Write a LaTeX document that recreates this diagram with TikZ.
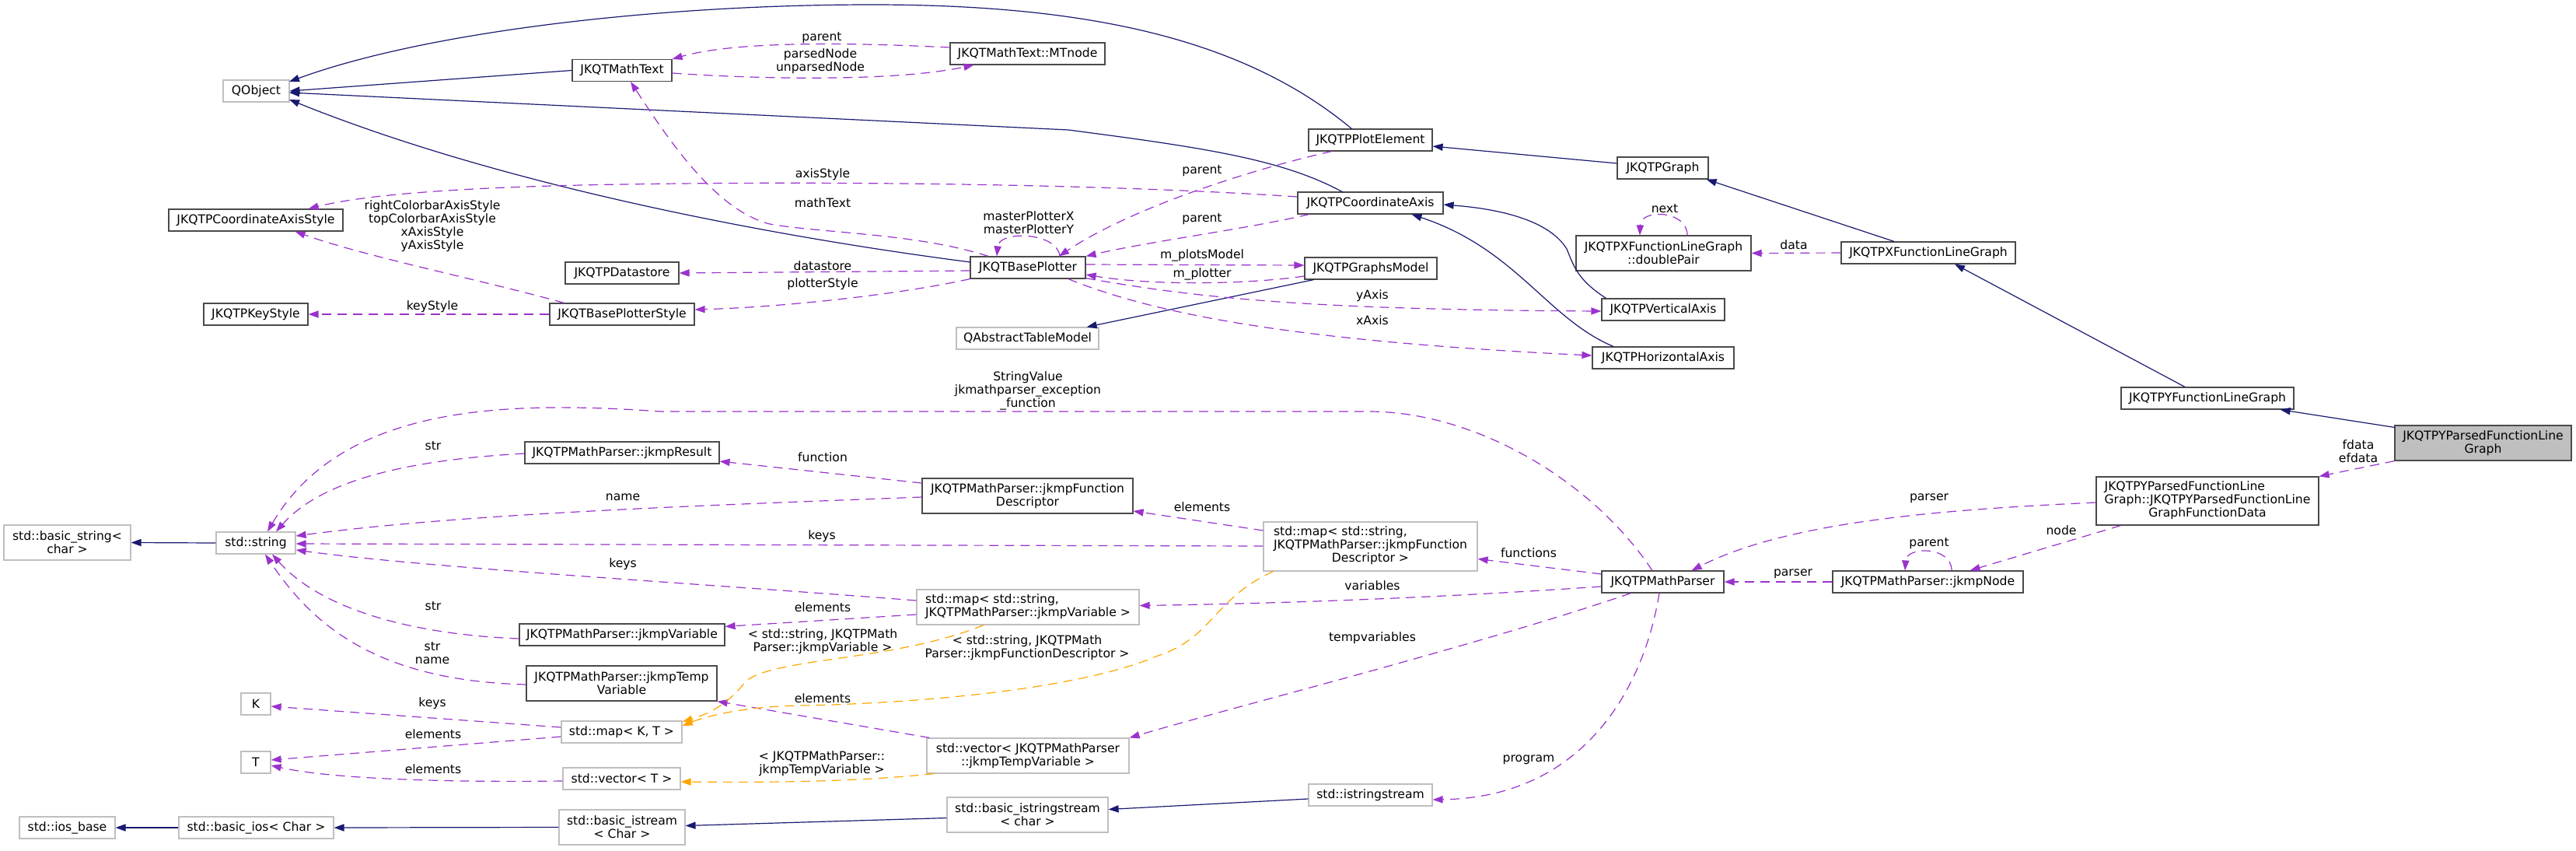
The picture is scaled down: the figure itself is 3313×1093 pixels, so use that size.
\documentclass[tikz,border=0pt]{standalone}
\usepackage{fontspec}
\setmainfont{DejaVu Sans}
\usetikzlibrary{arrows.meta,calc}
\definecolor{inhblue}{HTML}{191970}
\definecolor{usepurple}{HTML}{9A32CD}
\definecolor{tplorange}{HTML}{FFA500}
\definecolor{greyb}{HTML}{BFBFBF}
\definecolor{boxdark}{HTML}{4A4A4A}
\newcommand{\dxf}{\fontsize{7.8}{8.5}\selectfont}
\newcommand{\dxnode}[7][]{\node[dbox,#1,minimum width={#5*0.5pt},minimum height={#6*0.5pt}] (#2) at (#3,#4) {#7};}
\newcommand{\dxlbl}[4]{\node[lbl] (#1) at (#2,#3) {#4};}
\begin{document}
\begin{tikzpicture}[x=0.5pt,y=-0.5pt,
  dbox/.style={draw=boxdark,line width=0.6pt,fill=white,inner sep=0pt,font=\dxf,align=center,text=black},
  gbox/.style={draw=greyb},
  mbox/.style={fill=greyb,draw=boxdark},
  lbl/.style={font=\dxf,inner sep=0pt,align=center},
  arrowend/.style={-{Triangle[length=6.5pt,width=4.6pt]}},
  inh/.style={draw=inhblue,line width=0.6pt,arrowend},
  usg/.style={draw=usepurple,line width=0.6pt,dash pattern=on 6pt off 4pt,arrowend},
  tpl/.style={draw=tplorange,line width=0.6pt,dash pattern=on 6pt off 4pt,arrowend}]
\useasboundingbox (0,0) rectangle (3313,1093);

% ---------- nodes ----------
\dxnode[gbox]{QObject}{329.5}{117}{85}{28}{QObject}
\dxnode{MathText}{800}{90.5}{128}{28}{JKQTMathText}
\dxnode{MTnode}{1321.5}{69}{199}{28}{JKQTMathText::MTnode}
\dxnode{PlotElement}{1762.5}{180}{159}{28}{JKQTPPlotElement}
\dxnode{Graph}{2138.5}{216}{117}{28}{JKQTPGraph}
\dxnode{CoordAxis}{1762.5}{261}{187}{28}{JKQTPCoordinateAxis}
\dxnode{AxisStyle}{329}{283}{224}{28}{JKQTPCoordinateAxisStyle}
\dxnode{Datastore}{800}{351}{146}{28}{JKQTPDatastore}
\dxnode{BasePlotter}{1322}{344}{148}{28}{JKQTBasePlotter}
\dxnode{GraphsModel}{1763}{345}{170}{28}{JKQTPGraphsModel}
\dxnode{KeyStyle}{329}{404}{134}{28}{JKQTPKeyStyle}
\dxnode{BPStyle}{800}{404}{186}{28}{JKQTBasePlotterStyle}
\dxnode[gbox]{QATM}{1321.5}{435}{183}{28}{QAbstractTableModel}
\dxnode{doublePair}{2139.5}{325.5}{225}{45}{JKQTPXFunctionLineGraph\\::doublePair}
\dxnode{XFLG}{2480}{325}{224}{28}{JKQTPXFunctionLineGraph}
\dxnode{VertAxis}{2139}{398}{158}{28}{JKQTPVerticalAxis}
\dxnode{HorizAxis}{2139}{460}{182}{28}{JKQTPHorizontalAxis}
\dxnode{YFLG}{2839}{512}{222}{28}{JKQTPYFunctionLineGraph}
\dxnode[mbox]{YParsed}{3193.5}{569.5}{227}{45}{JKQTPYParsedFunctionLine\\Graph}
\dxnode{FData}{2839}{644}{286}{62}{\begin{tabular}{@{}l@{}}JKQTPYParsedFunctionLine\\Graph::JKQTPYParsedFunctionLine\\\multicolumn{1}{@{}c@{}}{GraphFunctionData}\end{tabular}}
\dxnode{MathParser}{2138.5}{748}{157}{28}{JKQTPMathParser}
\dxnode{jkmpNode}{2479.5}{748}{245}{28}{JKQTPMathParser::jkmpNode}
\dxnode[gbox]{mapFD}{1762.5}{702.5}{275}{63}{\begin{tabular}{@{}l@{}}std::map< std::string,\\JKQTPMathParser::jkmpFunction\\\multicolumn{1}{@{}c@{}}{Descriptor >}\end{tabular}}
\dxnode{FD}{1321.5}{637.5}{271}{45}{JKQTPMathParser::jkmpFunction\\Descriptor}
\dxnode{jkmpResult}{800}{582}{250}{28}{JKQTPMathParser::jkmpResult}
\dxnode[gbox]{stdstring}{329}{698}{102}{28}{std::string}
\dxnode[gbox]{basicstring}{86.5}{697.5}{163}{45}{std::basic\_string<\\char >}
\dxnode[gbox]{mapVar}{1322}{780.5}{286}{45}{\begin{tabular}{@{}l@{}}std::map< std::string,\\\multicolumn{1}{@{}c@{}}{ JKQTPMathParser::jkmpVariable >}\end{tabular}}
\dxnode{jkmpVariable}{800}{816}{264}{28}{JKQTPMathParser::jkmpVariable}
\dxnode{TempVar}{799.5}{878.5}{245}{45}{JKQTPMathParser::jkmpTemp\\Variable}
\dxnode[gbox]{K}{329}{905}{38}{28}{K}
\dxnode[gbox]{mapKT}{799.5}{941}{155}{28}{std::map< K, T >}
\dxnode[gbox]{T}{329}{980}{38}{28}{T}
\dxnode[gbox]{vectorT}{799.5}{1001}{151}{28}{std::vector< T >}
\dxnode[gbox]{vectorTemp}{1322}{971.5}{260}{45}{std::vector< JKQTPMathParser\\::jkmpTempVariable >}
\dxnode[gbox]{iosbase}{86.5}{1064}{123}{28}{std::ios\_base}
\dxnode[gbox]{basicios}{329.5}{1064}{199}{28}{std::basic\_ios< Char >}
\dxnode[gbox]{basicistream}{800}{1063.5}{162}{45}{std::basic\_istream\\< Char >}
\dxnode[gbox]{basicistringstream}{1321.5}{1047.5}{207}{45}{std::basic\_istringstream\\< char >}
\dxnode[gbox]{istringstream}{1762.5}{1022}{159}{28}{std::istringstream}

% ---------- inheritance (blue) ----------
\draw[inh] (MathText.west) -- (QObject.east);
\draw[inh] ($(PlotElement.center)+(-23.5,-14)$) .. controls (1600,50) and (1400,6) .. (1121,6) .. controls (850,6) and (550,40) .. ($(QObject.center)+(42.5,-12)$);
\draw[inh] ($(CoordAxis.center)+(-35.5,-14)$) .. controls (1650,205) and (1550,190) .. (1374,167) -- ($(QObject.center)+(42.5,2)$);
\draw[inh] ($(BasePlotter.center)+(-74,-7)$) .. controls (1000,305) and (650,240) .. ($(QObject.center)+(42.5,11)$);
\draw[inh] ($(Graph.west)+(0,-6)$) -- ($(PlotElement.east)+(0,8)$);
\draw[inh] ($(XFLG.north)+(-44,0)$) -- ($(Graph.south east)+(-3,0)$);
\draw[inh] ($(YFLG.north)+(-29,0)$) -- ($(XFLG.south)+(34,0)$);
\draw[inh] ($(YParsed.north west)+(0,3)$) -- ($(YFLG.south east)+(-18,0)$);
\draw[inh] ($(VertAxis.north west)+(6,0)$) .. controls (2030,360) and (2025,345) .. (2015,320) .. controls (1990,280) and (1920,268) .. ($(CoordAxis.east)+(0,2)$);
\draw[inh] ($(HorizAxis.north)+(-64,0)$) .. controls (1990,410) and (1950,320) .. ($(CoordAxis.south)+(53,0)$);
\draw[inh] ($(GraphsModel.south west)+(12,0)$) -- ($(QATM.north east)+(-16,0)$);
\draw[inh] (stdstring.west) -- (basicstring.east);
\draw[inh] (basicios.west) -- (iosbase.east);
\draw[inh] (basicistream.west) -- (basicios.east);
\draw[inh] ($(basicistringstream.west)+(0,4)$) -- ($(basicistream.east)+(0,-2)$);
\draw[inh] ($(istringstream.west)+(0,5)$) -- ($(basicistringstream.east)+(0,-7)$);

% ---------- usage (purple) ----------
\draw[usg] ($(MTnode.west)+(0,-8)$) .. controls (1100,55) and (950,52) .. (MathText.north east);
\draw[usg] ($(MathText.east)+(0,3.5)$) .. controls (980,102) and (1150,105) .. ($(MTnode.south west)+(31,0)$);
\draw[usg] ($(BasePlotter.north)+(-51,0)$) .. controls (1180,300) and (1060,300) .. (990,288) .. controls (920,270) and (860,180) .. ($(MathText.south)+(11,0)$);
\draw[usg] ($(CoordAxis.west)+(0,-8)$) .. controls (1450,238) and (1100,232) .. (800,237) .. controls (600,240) and (470,250) .. ($(AxisStyle.north east)+(-45,0)$);
\draw[usg] ($(BPStyle.north west)+(19,0)$) .. controls (620,360) and (470,330) .. ($(AxisStyle.south east)+(-62,0)$);
\draw[usg] (BPStyle.west) -- (KeyStyle.east);
\draw[usg] ($(BasePlotter.west)+(0,4)$) -- (Datastore.east);
\draw[usg] (BasePlotter.south west) .. controls (1150,380) and (1000,395) .. ($(BPStyle.east)+(0,-6)$);
\draw[usg] ($(BasePlotter.north)+(41,0)$) .. controls (1360,298) and (1285,296) .. ($(BasePlotter.north)+(-40,0)$);
\draw[usg] ($(PlotElement.south west)+(30,0)$) .. controls (1600,220) and (1450,270) .. ($(BasePlotter.north)+(40,0)$);
\draw[usg] ($(CoordAxis.south west)+(15,0)$) .. controls (1600,295) and (1480,310) .. (BasePlotter.north east);
\draw[usg] ($(BasePlotter.east)+(0,-4)$) -- ($(GraphsModel.west)+(0,-4)$);
\draw[usg] ($(GraphsModel.west)+(0,10)$) .. controls (1600,366) and (1480,367) .. ($(BasePlotter.east)+(0,9)$);
\draw[usg] ($(BasePlotter.south east)+(0,-1)$) .. controls (1550,385) and (1700,398) .. ($(VertAxis.west)+(0,2)$);
\draw[usg] ($(BasePlotter.south)+(52,0)$) .. controls (1500,410) and (1700,440) .. ($(HorizAxis.west)+(0,-3)$);
\draw[usg] ($(MathParser.north)+(-13.5,0)$) .. controls (2050,620) and (1900,529) .. (1760,529) -- (850,529) .. controls (650,515) and (440,520) .. ($(stdstring.north)+(15,0)$);
\draw[usg] ($(jkmpResult.west)+(0,1)$) .. controls (550,590) and (420,610) .. ($(stdstring.north)+(26,0)$);
\draw[usg] ($(FD.west)+(0,1.5)$) .. controls (900,650) and (600,660) .. ($(stdstring.east)+(0,-9)$);
\draw[usg] ($(mapFD.west)+(0,-0.5)$) -- ($(stdstring.east)+(0,1)$);
\draw[usg] ($(mapVar.west)+(0,-8.5)$) .. controls (900,750) and (550,730) .. ($(stdstring.east)+(0,9)$);
\draw[usg] ($(jkmpVariable.west)+(0,5)$) .. controls (520,815) and (410,780) .. ($(stdstring.south)+(21,0)$);
\draw[usg] ($(TempVar.west)+(0,1.5)$) .. controls (480,875) and (400,800) .. ($(stdstring.south)+(12,0)$);
\draw[usg] ($(FD.west)+(0,-16.5)$) -- ($(jkmpResult.east)+(0,11)$);
\draw[usg] ($(mapFD.west)+(0,-20.5)$) -- ($(FD.east)+(0,19.5)$);
\draw[usg] ($(mapVar.west)+(0,9.5)$) -- ($(jkmpVariable.north east)+(0,4)$);
\draw[usg] ($(MathParser.west)+(0,-10)$) -- ($(mapFD.east)+(0,16)$);
\draw[usg] ($(MathParser.west)+(0,6)$) .. controls (1900,765) and (1700,775) .. ($(mapVar.east)+(0,-2)$);
\draw[usg] ($(MathParser.south west)+(38,0)$) .. controls (1900,830) and (1600,905) .. (vectorTemp.north east);
\draw[usg] ($(vectorTemp.north west)+(4,0)$) -- (TempVar.south east);
\draw[usg] ($(MathParser.south)+(-4.5,0)$) .. controls (2115,880) and (2040,1025) .. ($(istringstream.east)+(0,6)$);
\draw[usg] (jkmpNode.west) -- (MathParser.east);
\draw[usg] ($(FData.west)+(0,2)$) .. controls (2500,655) and (2300,670) .. ($(MathParser.north east)+(-42,0)$);
\draw[usg] ($(jkmpNode.north)+(30.5,0)$) .. controls (2510,702) and (2452,702) .. ($(jkmpNode.north)+(-29.5,0)$);
\draw[usg] ($(FData.south west)+(32,0)$) -- ($(jkmpNode.north east)+(-69,0)$);
\draw[usg] (YParsed.south west) -- (FData.north east);
\draw[usg] (XFLG.west) -- (doublePair.east);
\draw[usg] ($(doublePair.north)+(30.5,0)$) .. controls (2170,270) and (2110,268) .. ($(doublePair.north)+(-30.5,0)$);
\draw[usg] ($(mapKT.west)+(0,-6)$) -- ($(K.east)+(0,3)$);
\draw[usg] ($(mapKT.west)+(0,6)$) -- ($(T.east)+(0,-3)$);
\draw[usg] ($(vectorT.west)+(0,3)$) .. controls (550,1006) and (420,1000) .. ($(T.east)+(0,4)$);

% ---------- template instances (orange) ----------
\draw[tpl] ($(mapVar.south)+(-57,0)$) .. controls (1150,850) and (1000,845) .. (960,875) .. controls (940,900) and (920,915) .. ($(mapKT.east)+(0,-13)$);
\draw[tpl] ($(mapFD.south west)+(13,0)$) .. controls (1560,770) and (1560,820) .. (1489,843) .. controls (1380,890) and (1150,905) .. (1030,907) .. controls (960,908) and (910,920) .. ($(mapKT.east)+(0,-8)$);
\draw[tpl] ($(vectorTemp.south west)+(10,0)$) .. controls (1100,1005) and (1000,1006) .. ($(vectorT.east)+(0,4)$);

% ---------- labels ----------
\dxlbl{la1}{1057}{49}{parent}
\dxlbl{la2}{1055}{79}{parsedNode\\unparsedNode}
\dxlbl{la3}{1058}{224}{axisStyle}
\dxlbl{la4}{1058}{261}{mathText}
\dxlbl{la5}{1323}{286.5}{masterPlotterX\\masterPlotterY}
\dxlbl{la6}{1546}{220}{parent}
\dxlbl{la7}{1546}{282}{parent}
\dxlbl{la8}{1546}{328}{m\_plotsModel}
\dxlbl{la9}{1546}{352}{m\_plotter}
\dxlbl{la10}{1058}{342}{datastore}
\dxlbl{la11}{1058}{365}{plotterStyle}
\dxlbl{la12}{556}{291}{rightColorbarAxisStyle\\topColorbarAxisStyle\\xAxisStyle\\yAxisStyle}
\dxlbl{la13}{556}{394}{keyStyle}
\dxlbl{la14}{2141}{268}{next}
\dxlbl{la15}{2307}{315}{data}
\dxlbl{la16}{1765}{380}{yAxis}
\dxlbl{la17}{1765}{412}{xAxis}
\dxlbl{la18}{3033}{580.5}{fdata\\efdata}
\dxlbl{la19}{2481}{641}{parser}
\dxlbl{la20}{2481}{699}{parent}
\dxlbl{la21}{2306}{738}{parser}
\dxlbl{la22}{2651}{682}{node}
\dxlbl{la23}{1322}{502}{StringValue\\jkmathparser\_exception\\\_function}
\dxlbl{la24}{557}{573}{str}
\dxlbl{la25}{1058}{588}{function}
\dxlbl{la26}{801}{639}{name}
\dxlbl{la27}{1546}{652}{elements}
\dxlbl{la28}{1057}{689}{keys}
\dxlbl{la29}{1966}{711}{functions}
\dxlbl{la30}{801}{725}{keys}
\dxlbl{la31}{1765}{753}{variables}
\dxlbl{la32}{557}{779}{str}
\dxlbl{la33}{1058}{781}{elements}
\dxlbl{la34}{1058}{824.5}{< std::string, JKQTPMath\\Parser::jkmpVariable >}
\dxlbl{la35}{1321}{832.5}{< std::string, JKQTPMath\\Parser::jkmpFunctionDescriptor >}
\dxlbl{la36}{1765}{820}{tempvariables}
\dxlbl{la37}{556}{839.5}{str\\name}
\dxlbl{la38}{1058}{898}{elements}
\dxlbl{la39}{556}{904}{keys}
\dxlbl{la40}{557}{944}{elements}
\dxlbl{la41}{1057}{982}{< JKQTPMathParser::\\jkmpTempVariable >}
\dxlbl{la42}{557}{989}{elements}
\dxlbl{la43}{1966}{977}{program}
\end{tikzpicture}
\end{document}
